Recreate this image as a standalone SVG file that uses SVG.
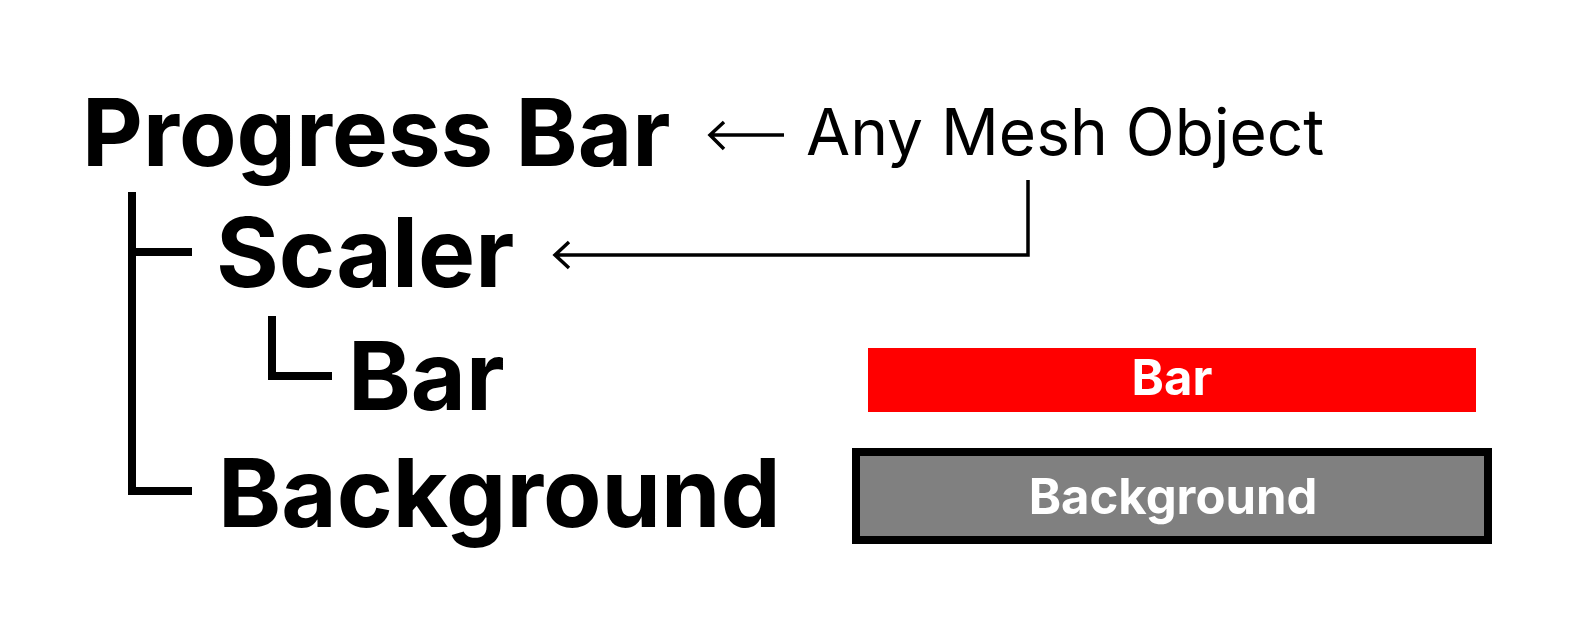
<svg xmlns="http://www.w3.org/2000/svg" width="1572" height="628" viewBox="0 0 1572 628">
<style>
.t{font-family:Inter,"Liberation Sans",sans-serif;font-weight:700;font-size:94px;fill:#000}
.r{font-family:Inter,"Liberation Sans",sans-serif;font-weight:400;font-size:64px;fill:#000}
.w{font-family:Inter,"Liberation Sans",sans-serif;font-weight:700;font-size:49px;fill:#fff}
.tree{fill:none;stroke:#000;stroke-width:8}
.conn{fill:none;stroke:#000;stroke-width:3.5}
</style>
<rect width="1572" height="628" fill="#fff"/>
<g id="tree-lines">
<path class="tree" d="M132 192V491H192M132 252H192"/>
<path class="tree" d="M272 316V376H332"/>
</g>
<g id="connectors">
<path class="conn" d="M711 135H784M724 122L710 135L724 149"/>
<path class="conn" d="M1028 180V255H556M569 242L555 255L569 268"/>
</g>
<g id="progress-bar"><text class="t" x="82" y="166">Progress Bar</text></g>
<g id="any-mesh"><text class="r" x="806" y="155">Any Mesh Object</text></g>
<g id="scaler"><text class="t" x="216" y="287" style="font-size:96px">Scaler</text></g>
<g id="bar"><text class="t" x="348" y="410" style="font-size:95px">Bar</text></g>
<g id="background"><text class="t" x="218" y="527" style="font-size:95.5px">Background</text></g>
<g id="bar-box">
<rect x="868" y="348" width="608" height="64" fill="#ff0000"/>
<text class="w" x="1172" y="395" text-anchor="middle">Bar</text>
</g>
<g id="background-box">
<rect x="856" y="452" width="632" height="88" fill="#808080" stroke="#000" stroke-width="8"/>
<text class="w" x="1173" y="514" text-anchor="middle">Background</text>
</g>
</svg>
